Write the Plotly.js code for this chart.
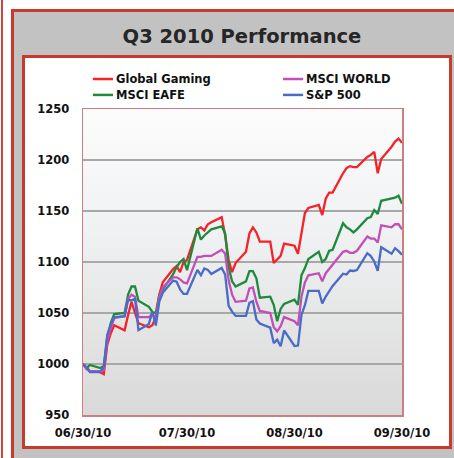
<!DOCTYPE html>
<html>
<head>
<meta charset="utf-8">
<script src="https://cdn.plot.ly/plotly-3.0.1.min.js"></script>
<style>
  html, body { margin:0; padding:0; background:#fff; }
  #wrap { position:relative; width:454px; height:458px; overflow:hidden; background:#fff; }
  .abs { position:absolute; box-sizing:border-box; }
</style>
</head>
<body>
<div id="wrap">
  <div class="abs" style="left:1px;top:0;width:2px;height:458px;background:#cf4638;"></div>
  <div class="abs" style="left:11px;top:9px;width:470px;height:480px;background:#c2c2c2;border:3px solid #c93a2e;"></div>
  <div class="abs" style="left:22px;top:55px;width:430px;height:394px;background:#fff;border:3px solid #c93a2e;"></div>
  <div class="abs" style="left:83px;top:109px;width:319px;height:306px;background:linear-gradient(to bottom,#fcfcfd 0%,#f0f1f2 40%,#d9d9d9 100%);"></div>
  <div id="chart" class="abs" style="left:0;top:0;width:454px;height:458px;"></div>
</div>
<script>
const dates = ['2010-06-30','2010-07-01','2010-07-02','2010-07-05','2010-07-06','2010-07-07','2010-07-08','2010-07-09','2010-07-12','2010-07-13','2010-07-14','2010-07-15','2010-07-16','2010-07-19','2010-07-20','2010-07-21','2010-07-22','2010-07-23','2010-07-26','2010-07-27','2010-07-28','2010-07-29','2010-07-30','2010-08-02','2010-08-03','2010-08-04','2010-08-05','2010-08-06','2010-08-09','2010-08-10','2010-08-11','2010-08-12','2010-08-13','2010-08-16','2010-08-17','2010-08-18','2010-08-19','2010-08-20','2010-08-23','2010-08-24','2010-08-25','2010-08-26','2010-08-27','2010-08-30','2010-08-31','2010-09-01','2010-09-02','2010-09-03','2010-09-06','2010-09-07','2010-09-08','2010-09-09','2010-09-10','2010-09-13','2010-09-14','2010-09-15','2010-09-16','2010-09-17','2010-09-20','2010-09-21','2010-09-22','2010-09-23','2010-09-24','2010-09-27','2010-09-28','2010-09-29','2010-09-30'];

const globalGaming = [1000,996,993,992,990,1019,1030,1038,1033,1048,1061,1050,1040,1036,1038,1046,1068,1080,1093,1096,1090,1100,1102,1132,1134,1131,1137,1139,1144,1126,1102,1090,1099,1110,1128,1134,1129,1120,1120,1099,1103,1106,1118,1116,1108,1128,1148,1153,1156,1146,1162,1168,1168,1187,1192,1194,1193,1193,1203,1205,1208,1187,1201,1213,1218,1221,1217];

const msciEafe = [1000,996,999,996,998,1026,1040,1049,1050,1068,1076,1076,1062,1056,1051,1050,1068,1073,1088,1095,1100,1103,1092,1133,1122,1126,1129,1132,1135,1128,1095,1081,1076,1081,1091,1091,1084,1065,1066,1058,1042,1054,1059,1063,1058,1087,1094,1103,1110,1100,1103,1111,1112,1138,1134,1132,1129,1132,1143,1144,1151,1147,1160,1162,1163,1165,1157];

const msciWorld = [1000,995,993,993,994,1022,1035,1045,1047,1064,1068,1066,1046,1046,1049,1045,1066,1075,1085,1085,1083,1080,1079,1105,1105,1106,1106,1106,1112,1108,1082,1068,1061,1062,1074,1075,1061,1052,1050,1036,1032,1037,1046,1042,1038,1066,1080,1087,1089,1081,1089,1093,1097,1110,1111,1109,1109,1111,1125,1123,1123,1119,1136,1134,1137,1137,1132];

const sp500 = [1000,996.8,992.1,992.1,997.4,1028.7,1038.4,1045.9,1046.6,1062.7,1062.5,1063.8,1033.2,1039.3,1051.2,1037.7,1061.1,1069.8,1081.8,1080.6,1073.2,1068.7,1068.8,1092.3,1087.1,1093.6,1092.3,1088.2,1094.2,1087.6,1057.0,1051.3,1047.1,1047.2,1060.0,1061.6,1043.6,1039.7,1035.6,1020.5,1023.9,1017.4,1032.9,1017.7,1018.1,1048.1,1057.6,1071.6,1071.6,1059.3,1066.1,1071.3,1076.5,1088.5,1087.7,1091.6,1091.2,1092.1,1108.6,1105.8,1100.5,1091.3,1114.5,1108.1,1113.5,1110.6,1107.2];

const xTickVals = ['2010-06-30','2010-07-30','2010-08-30','2010-09-30'];
const xTickText = ['06/30/10','07/30/10','08/30/10','09/30/10'];
const yTickVals = [950,1000,1050,1100,1150,1200,1250];

const seriesNames = ['Global Gaming','MSCI EAFE','MSCI WORLD','S&P 500'];
const seriesColors = ['#f5222a','#1f8a3e','#c050b8','#4a6bc6'];
const seriesData = [globalGaming, msciEafe, msciWorld, sp500];

// legend slots (paper coordinates): column x, row y
const legendSlots = [
  {x:0.031, y:1.098}, // Global Gaming
  {x:0.031, y:1.046}, // MSCI EAFE
  {x:0.627, y:1.098}, // MSCI WORLD
  {x:0.627, y:1.046}  // S&P 500
];
const LEG_LINE = 0.063, LEG_GAP = 0.004;

const FONT = 'DejaVu Sans, Verdana, sans-serif';

const traces = seriesData.map((vals, i) => ({
  type:'scatter', mode:'lines', x:dates, y:vals, name:seriesNames[i],
  line:{color:seriesColors[i], width:2.3}, hoverinfo:'skip'
}));

const shapes = legendSlots.map((s, i) => ({
  type:'line', xref:'paper', yref:'paper', x0:s.x, x1:s.x + LEG_LINE, y0:s.y, y1:s.y,
  line:{color:seriesColors[i], width:2.5}
}));
const annotations = legendSlots.map((s, i) => ({
  xref:'paper', yref:'paper', x:s.x + LEG_LINE + LEG_GAP, y:s.y, xanchor:'left', yanchor:'middle',
  text:seriesNames[i].replace('&','&amp;'), showarrow:false,
  font:{family:FONT, size:11.5, weight:'bold', color:'#111'}
}));

const layout = {
  width:454, height:458,
  margin:{l:83, r:52, t:109, b:43},
  paper_bgcolor:'rgba(0,0,0,0)', plot_bgcolor:'rgba(0,0,0,0)',
  title:{text:'Q3 2010 Performance', font:{family:FONT, size:19.5, weight:'bold', color:'#262626'},
         x:0.533, xref:'container', xanchor:'center', y:0.922, yref:'container', yanchor:'middle'},
  showlegend:false,
  shapes:shapes,
  annotations:annotations,
  xaxis:{type:'date', range:['2010-06-30','2010-09-30'], tickmode:'array', tickvals:xTickVals, ticktext:xTickText,
         showgrid:false, zeroline:false, showline:true, mirror:true, linecolor:'#cc7f7f', linewidth:1.5,
         ticks:'', ticklabelstandoff:7, tickfont:{family:FONT, size:11.5, weight:'bold', color:'#111'}, fixedrange:true},
  yaxis:{range:[950,1250], tickmode:'array', tickvals:yTickVals, showgrid:true, gridcolor:'#a8a8a8', gridwidth:1.5,
         zeroline:false, showline:true, mirror:true, linecolor:'#cc7f7f', linewidth:1.5,
         ticks:'', ticklabelstandoff:10, tickfont:{family:FONT, size:11.5, weight:'bold', color:'#111'}, fixedrange:true}
};

Plotly.newPlot('chart', traces, layout, {displayModeBar:false, staticPlot:true});
</script>
</body>
</html>
